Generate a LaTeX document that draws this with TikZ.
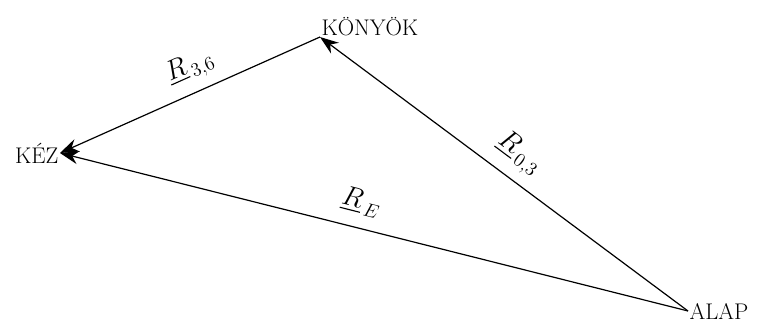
\documentclass[tikz,border=0pt]{standalone}
\usepackage{amsmath}
\usetikzlibrary{arrows.meta, positioning}

\begin{document}
\begin{tikzpicture}[x=0.75pt, y=-0.75pt,
  place/.style={font=\fontsize{17}{19}\selectfont, inner sep=1pt},
  vec/.style={draw, line width=0.9pt, -{Stealth[length=14pt, width=10pt]}},
  veclabel/.style={font=\huge, sloped, above}]
\useasboundingbox (0,0) rectangle (758,325);
% end points
\node[place, anchor=east] (kez) at (60,153) {KÉZ};
\node[place, anchor=south west] (konyok) at (320,37) {KÖNYÖK};
\node[place, anchor=west] (alap) at (688,311) {ALAP};
% vectors
\draw[vec] (konyok.south west) -- (kez.east)
  node[veclabel, pos=0.46, yshift=4pt] {$\underline{R}_{\,3,6}$};
\draw[vec] (alap.west) -- (konyok.south west)
  node[veclabel, pos=0.5, yshift=4pt] {$\underline{R}_{\,0,3}$};
\draw[vec] (alap.west) -- (kez.east)
  node[veclabel, pos=0.53, yshift=6pt] {$\underline{R}_{\,E}$};
\end{tikzpicture}
\end{document}
